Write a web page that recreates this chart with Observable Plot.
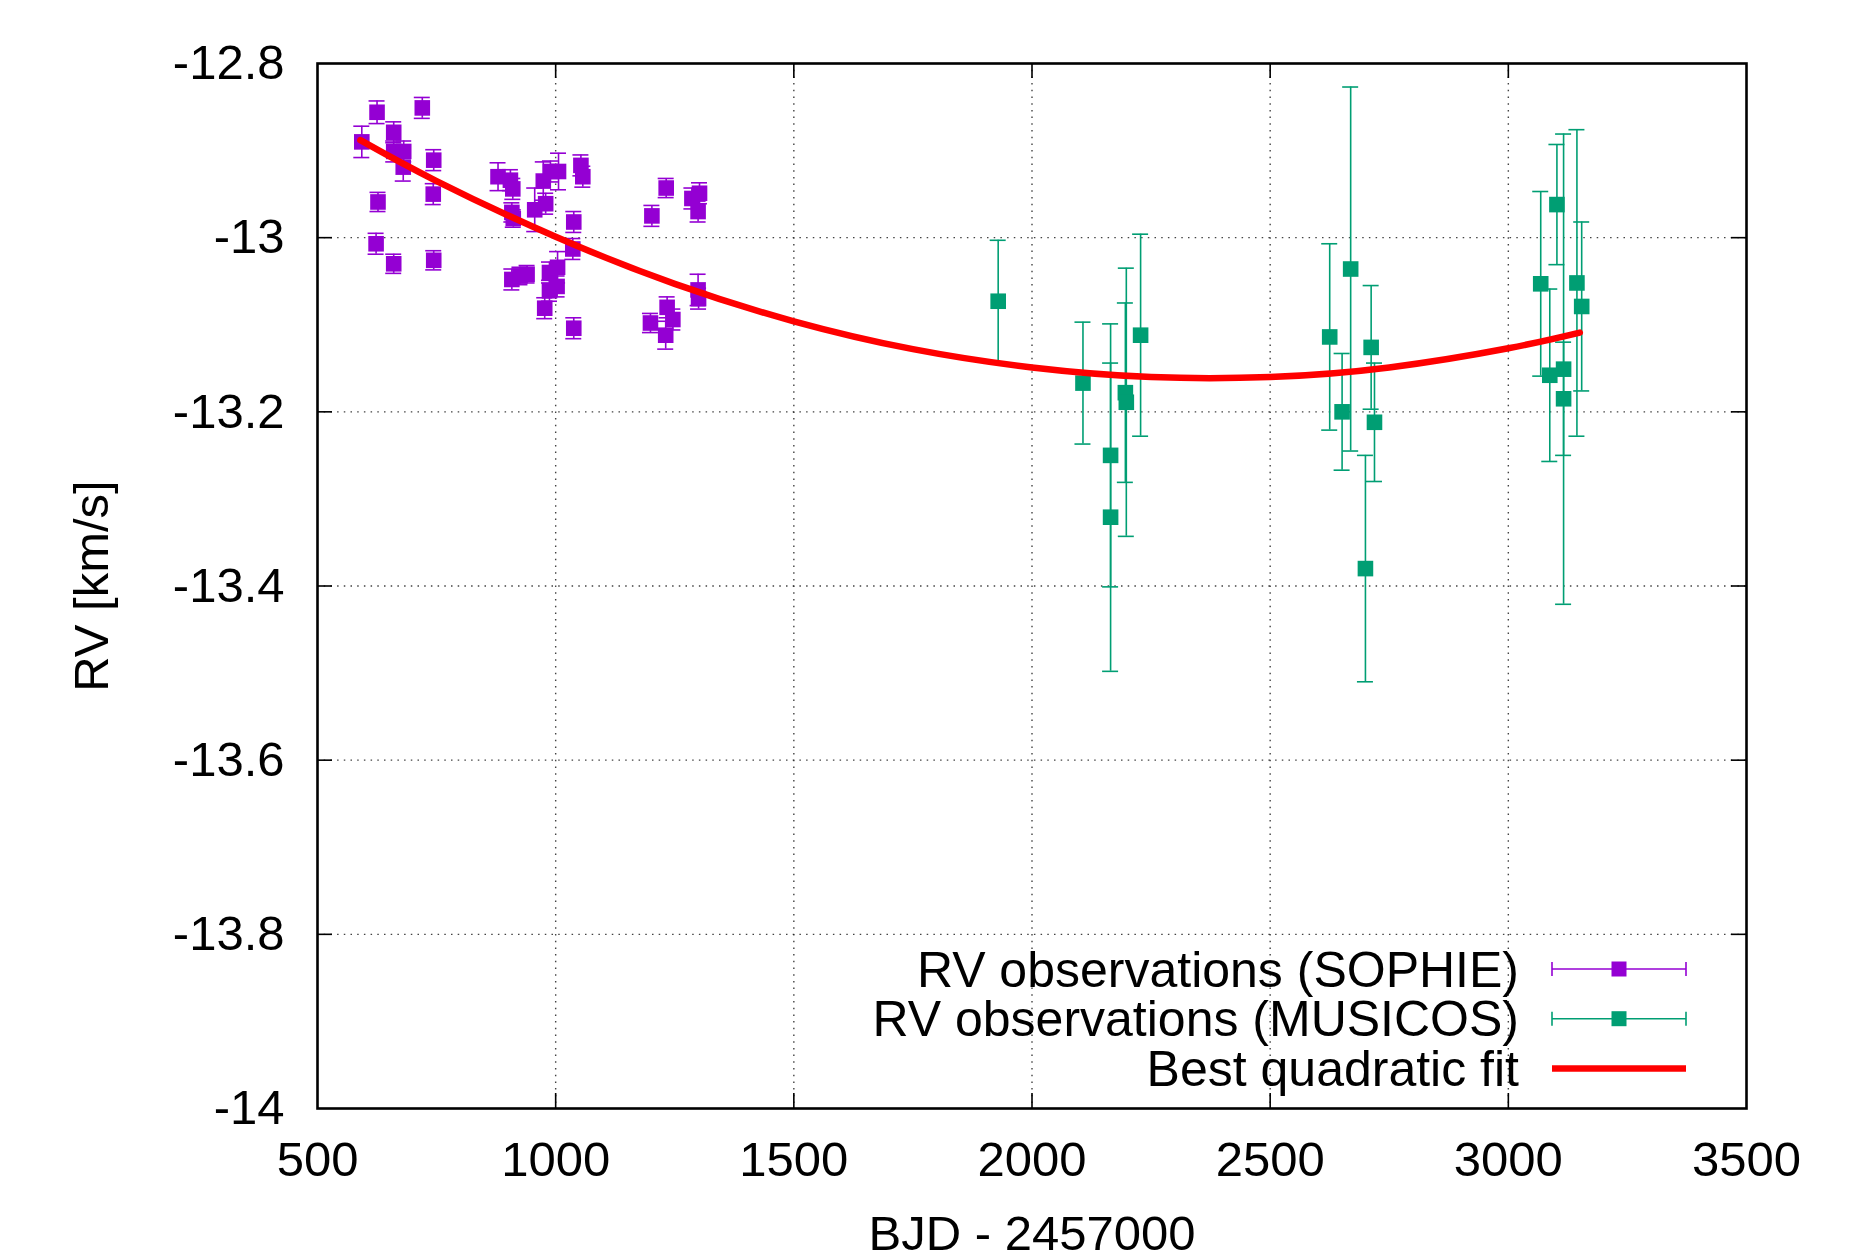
<!DOCTYPE html>
<html>
<head>
<meta charset="utf-8">
<script src="https://cdn.jsdelivr.net/npm/d3@7"></script>
<script src="https://cdn.jsdelivr.net/npm/@observablehq/plot@0.6"></script>
<style>
  html, body { margin: 0; padding: 0; background: #fff; }
  #chart { width: 1857px; height: 1252px; overflow: hidden; }
</style>
</head>
<body>
<div id="chart"></div>
<script>
// ---- Data ----
const sophieX = [593, 625, 720, 660, 660, 681, 680, 744, 627, 743, 623, 660, 744,
  879, 905, 910, 908, 911, 956, 974, 979, 989, 1006, 1053, 1057, 1038, 1036,
  908, 925, 940, 987, 1004, 1003, 987, 977, 1038,
  1202, 1232, 1286, 1302, 1299, 1199, 1234, 1246, 1231, 1299, 1300];
const sophieY = [-12.890, -12.856, -12.851, -12.879, -12.901, -12.901, -12.919, -12.911, -12.959, -12.950, -13.007, -13.030, -13.026,
  -12.930, -12.934, -12.944, -12.971, -12.978, -12.968, -12.935, -12.961, -12.924, -12.924, -12.917, -12.930, -12.982, -13.013,
  -13.048, -13.044, -13.042, -13.040, -13.034, -13.056, -13.061, -13.081, -13.104,
  -12.975, -12.943, -12.955, -12.949, -12.970, -13.098, -13.080, -13.094, -13.112, -13.060, -13.070];
const sophieErr = [0.018, 0.013, 0.012, 0.012, 0.012, 0.012, 0.016, 0.012, 0.011, 0.012, 0.012, 0.011, 0.011,
  0.016, 0.012, 0.012, 0.011, 0.010, 0.025, 0.022, 0.012, 0.012, 0.021, 0.012, 0.012, 0.012, 0.012,
  0.012, 0.010, 0.010, 0.012, 0.018, 0.012, 0.012, 0.012, 0.012,
  0.012, 0.011, 0.012, 0.012, 0.012, 0.011, 0.012, 0.012, 0.016, 0.018, 0.012];

const musicosX = [1929, 2107, 2165, 2165, 2196, 2198, 2228, 2625, 2651, 2669, 2700, 2712, 2719,
  3068, 3087, 3102, 3116, 3116, 3144, 3154];
const musicosY = [-13.073, -13.167, -13.250, -13.321, -13.178, -13.189, -13.112, -13.114, -13.200, -13.036, -13.380, -13.126, -13.212,
  -13.053, -13.158, -12.962, -13.151, -13.185, -13.052, -13.079];
const musicosErr = [0.070, 0.070, 0.151, 0.177, 0.103, 0.154, 0.116, 0.107, 0.067, 0.209, 0.130, 0.071, 0.068,
  0.106, 0.099, 0.069, 0.270, 0.065, 0.176, 0.097];

const fitX = [590, 750, 1000, 1250, 1500, 1750, 2000, 2250, 2500, 2750, 3000, 3150];
const fitY = [-12.888, -12.935, -12.999, -13.053, -13.096, -13.128, -13.149, -13.160, -13.160, -13.149, -13.127, -13.109];

const xTicks = [500, 1000, 1500, 2000, 2500, 3000, 3500];
const yTicks = [-12.8, -13, -13.2, -13.4, -13.6, -13.8, -14];
const xGrid = [1000, 1500, 2000, 2500, 3000];
const yGrid = [-13, -13.2, -13.4, -13.6, -13.8];

const seriesLabels = ["RV observations (SOPHIE)", "RV observations (MUSICOS)", "Best quadratic fit"];
const colors = {sophie: "#9400d3", musicos: "#009e73", fit: "#ff0000"};

// ---- Tables ----
const sophie = sophieX.map((x, i) => ({x, y: sophieY[i], e: sophieErr[i]}));
const musicos = musicosX.map((x, i) => ({x, y: musicosY[i], e: musicosErr[i]}));
const fit = fitX.map((x, i) => ({x, y: fitY[i]}));

// ---- Layout ----
const W = 1857, H = 1252;
const mL = 317, mR = 111, mT = 63, mB = 144;
const frameW = W - mL - mR, frameH = H - mT - mB;
const tickLen = 15;
const FONT = "'Liberation Sans', Arial, Helvetica, sans-serif";
const FS = 49;
const capHalf = 8;

function errMarks(data, color) {
  return [
    Plot.ruleX(data, {x: "x", y1: d => d.y - d.e, y2: d => d.y + d.e, stroke: color, strokeWidth: 1.6}),
    Plot.ruleY(data, {y: d => d.y - d.e, x1: "x", x2: "x", insetLeft: -capHalf, insetRight: -capHalf, stroke: color, strokeWidth: 1.6}),
    Plot.ruleY(data, {y: d => d.y + d.e, x1: "x", x2: "x", insetLeft: -capHalf, insetRight: -capHalf, stroke: color, strokeWidth: 1.6}),
    Plot.dot(data, {x: "x", y: "y", symbol: "square", r: 8.8, fill: color, stroke: null})
  ];
}

const gridStyle = {stroke: "#222", strokeOpacity: 0.85, strokeWidth: 1.4, strokeDasharray: "1.5,5.2"};

const chart = Plot.plot({
  width: W,
  height: H,
  marginLeft: mL,
  marginRight: mR,
  marginTop: mT,
  marginBottom: mB,
  style: {fontFamily: FONT, fontSize: FS + "px", background: "#fff", color: "#000"},
  x: {domain: [500, 3500], axis: null},
  y: {domain: [-14, -12.8], axis: null},
  marks: [
    Plot.gridX(xGrid, gridStyle),
    Plot.gridY(yGrid, gridStyle),
    // inward ticks on all four sides
    Plot.ruleX(xGrid, {x: d => d, insetTop: frameH - tickLen, stroke: "#000", strokeWidth: 1.6}),
    Plot.ruleX(xGrid, {x: d => d, insetBottom: frameH - tickLen, stroke: "#000", strokeWidth: 1.6}),
    Plot.ruleY(yGrid, {y: d => d, insetRight: frameW - tickLen, stroke: "#000", strokeWidth: 1.6}),
    Plot.ruleY(yGrid, {y: d => d, insetLeft: frameW - tickLen, stroke: "#000", strokeWidth: 1.6}),
    // axes labels (ticks)
    Plot.axisX(xTicks, {anchor: "bottom", tickSize: 0, tickPadding: 33, tickFormat: d => String(d), fontSize: FS, label: null}),
    Plot.axisY(yTicks, {anchor: "left", tickSize: 0, tickPadding: 33, tickFormat: d => String(d), fontSize: FS, label: null}),
    // axis titles
    Plot.text(["BJD - 2457000"], {frameAnchor: "bottom", dy: 126, text: d => d, fontSize: FS, lineAnchor: "middle", textAnchor: "middle"}),
    Plot.text(["RV [km/s]"], {frameAnchor: "left", dx: -225, rotate: -90, text: d => d, fontSize: FS, lineAnchor: "middle", textAnchor: "middle"}),
    // data
    ...errMarks(sophie, colors.sophie),
    ...errMarks(musicos, colors.musicos),
    Plot.line(fit, {x: "x", y: "y", stroke: colors.fit, strokeWidth: 6.5, curve: "natural"}),
    Plot.frame({stroke: "#000", strokeWidth: 2.6})
  ]
});

document.getElementById("chart").appendChild(chart);

// ---- Legend (inside plot, bottom right) ----
const svg = d3.select(chart);
const leg = svg.append("g").attr("font-family", FONT).attr("font-size", 50);
const legendRows = [
  {label: seriesLabels[0], color: colors.sophie, kind: "err"},
  {label: seriesLabels[1], color: colors.musicos, kind: "err"},
  {label: seriesLabels[2], color: colors.fit, kind: "line"}
];
const textRight = 1519, s0 = 1552, s1 = 1686, sMid = (s0 + s1) / 2;
legendRows.forEach((r, i) => {
  const y = 969 + i * 49.7;
  leg.append("text").attr("x", textRight).attr("y", y).attr("dy", "0.35em")
    .attr("text-anchor", "end").attr("fill", "#000").text(r.label);
  if (r.kind === "err") {
    leg.append("line").attr("x1", s0).attr("x2", s1).attr("y1", y).attr("y2", y)
      .attr("stroke", r.color).attr("stroke-width", 1.6);
    [s0, s1].forEach(xx => leg.append("line").attr("x1", xx).attr("x2", xx)
      .attr("y1", y - 7).attr("y2", y + 7).attr("stroke", r.color).attr("stroke-width", 1.6));
    leg.append("rect").attr("x", sMid - 7.5).attr("y", y - 7.5).attr("width", 15).attr("height", 15)
      .attr("fill", r.color);
  } else {
    leg.append("line").attr("x1", s0).attr("x2", s1).attr("y1", y).attr("y2", y)
      .attr("stroke", r.color).attr("stroke-width", 6.5);
  }
});
</script>
</body>
</html>
